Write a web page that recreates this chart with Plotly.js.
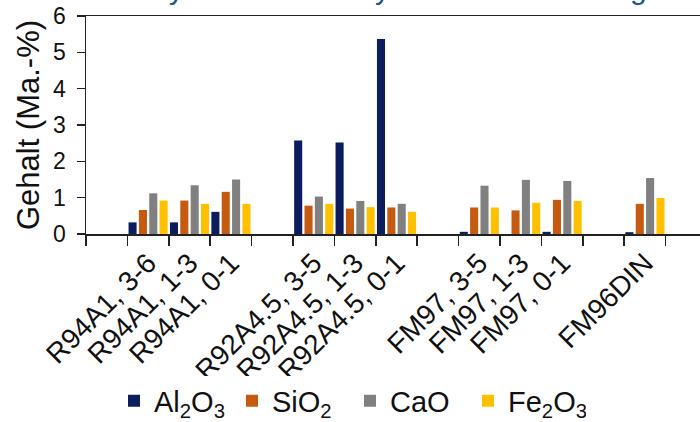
<!DOCTYPE html>
<html>
<head>
<meta charset="utf-8">
<script src="https://cdn.plot.ly/plotly-3.0.1.min.js"></script>
<style>html,body{margin:0;padding:0;background:#fff;}#chart{width:700px;height:422px;}</style>
</head>
<body>
<div id="chart"></div>
<script>
// Categories (blank entries are the gaps between sample groups)
var categories = [" ", "R94A1, 3-6", "R94A1, 1-3", "R94A1, 0-1", "  ",
  "R92A4.5, 3-5", "R92A4.5, 1-3", "R92A4.5, 0-1", "   ",
  "FM97, 3-5", "FM97, 1-3", "FM97, 0-1", "    ", "FM96DIN", "     "];

// Gehalt (Ma.-%)
var al2o3 = [null, 0.32, 0.32, 0.61, null, 2.57, 2.52, 5.37, null, 0.06, null, 0.06, null, 0.05, null];
var sio2  = [null, 0.66, 0.92, 1.16, null, 0.78, 0.70, 0.73, null, 0.73, 0.65, 0.94, null, 0.83, null];
var cao   = [null, 1.12, 1.34, 1.50, null, 1.03, 0.91, 0.83, null, 1.33, 1.49, 1.46, null, 1.54, null];
var fe2o3 = [null, 0.92, 0.83, 0.83, null, 0.83, 0.74, 0.61, null, 0.73, 0.86, 0.91, null, 0.99, null];

var seriesNames = ["Al<sub>2</sub>O<sub>3</sub>", "SiO<sub>2</sub>", "CaO", "Fe<sub>2</sub>O<sub>3</sub>"];
var seriesColors = ["#0b1d5e", "#c55a11", "#808080", "#ffc000"];
var seriesValues = [al2o3, sio2, cao, fe2o3];

var titleLetters = ["y", "y", "g"];

var traces = seriesValues.map(function (vals, i) {
  return {
    type: "bar",
    x: categories,
    y: vals,
    name: seriesNames[i],
    marker: { color: seriesColors[i] },
    hoverinfo: "x+y+name"
  };
});

var font = "Liberation Sans, Arial, sans-serif";

var layout = {
  width: 700,
  height: 422,
  margin: { l: 86, r: 0, t: 16, b: 188 },
  paper_bgcolor: "#ffffff",
  plot_bgcolor: "#ffffff",
  barmode: "group",
  bargap: 0,
  bargroupgap: 0.22,
  font: { family: font, color: "#111" },
  showlegend: true,
  legend: {
    orientation: "h",
    x: 0.5, xanchor: "center", xref: "container",
    y: 21 / 422, yanchor: "middle", yref: "container",
    font: { family: font, size: 29, color: "#111" },
    itemwidth: 30,
    entrywidth: 73,
    traceorder: "normal"
  },
  xaxis: {
    type: "category",
    categoryorder: "array",
    categoryarray: categories,
    range: [-0.5, 14.33],
    tickson: "boundaries",
    ticks: "outside",
    ticklen: 10,
    tickwidth: 1.5,
    tickcolor: "#222",
    tickangle: -45,
    tickfont: { family: font, size: 28, color: "#111" },
    showline: true,
    linecolor: "#222",
    linewidth: 1.5,
    mirror: true,
    showgrid: false,
    zeroline: false
  },
  yaxis: {
    range: [0, 6],
    dtick: 1,
    ticks: "outside",
    ticklen: 8,
    tickwidth: 1.5,
    tickcolor: "#222",
    ticklabelstandoff: 6,
    tickfont: { family: font, size: 23, color: "#111" },
    showline: true,
    linecolor: "#222",
    linewidth: 1.5,
    showgrid: false,
    zeroline: false,
    title: { text: "Gehalt (Ma.-%)", font: { family: font, size: 31, color: "#111" }, standoff: 4 }
  },
  annotations: [
    { text: titleLetters[0], xref: "paper", yref: "paper", x: (176 - 86) / 614, y: 1 + 9 / 218, xanchor: "center", yanchor: "bottom", showarrow: false, font: { family: font, size: 30, color: "#1a5592" } },
    { text: titleLetters[1], xref: "paper", yref: "paper", x: (382 - 86) / 614, y: 1 + 9 / 218, xanchor: "center", yanchor: "bottom", showarrow: false, font: { family: font, size: 30, color: "#1a5592" } },
    { text: titleLetters[2], xref: "paper", yref: "paper", x: (638 - 86) / 614, y: 1 + 9 / 218, xanchor: "center", yanchor: "bottom", showarrow: false, font: { family: font, size: 30, color: "#1a5592" } }
  ]
};

Plotly.newPlot("chart", traces, layout, { displayModeBar: false, staticPlot: true });
</script>
</body>
</html>
